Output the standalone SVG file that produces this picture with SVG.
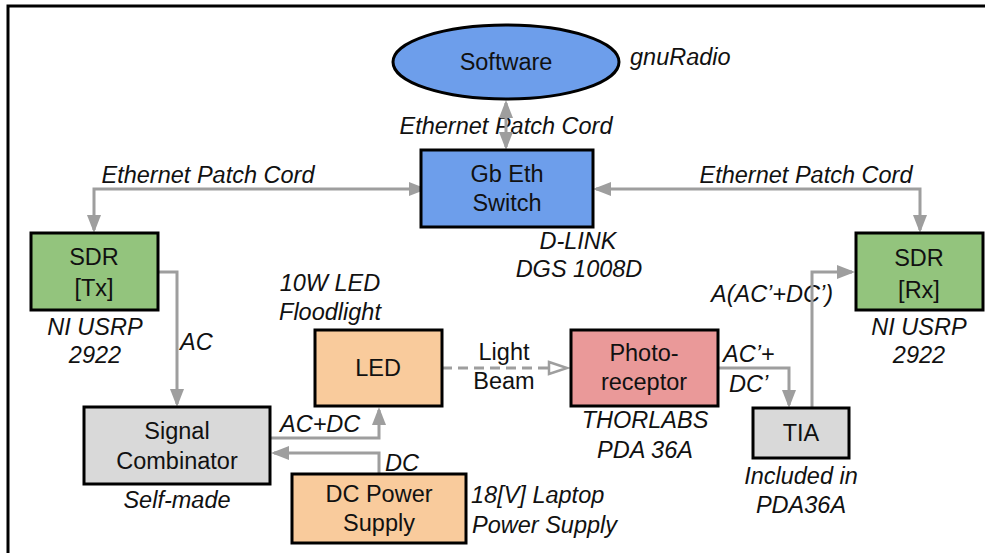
<svg xmlns="http://www.w3.org/2000/svg" width="985" height="553" viewBox="0 0 985 553">
<style>
.box{stroke:#000;stroke-width:3}
.t{font-family:"Liberation Sans",Arial,sans-serif;font-size:23.5px;fill:#111;text-anchor:middle}
.i{font-family:"Liberation Sans",Arial,sans-serif;font-size:23.5px;font-style:italic;fill:#111;text-anchor:middle}
.c{fill:none;stroke:#9e9e9e;stroke-width:3}
</style>
<defs>
<marker id="ah" markerUnits="userSpaceOnUse" markerWidth="18" markerHeight="14" refX="15" refY="7" orient="auto-start-reverse" overflow="visible">
<path d="M0,0 L18,7 L0,14 z" fill="#9e9e9e"/>
</marker>
<marker id="oh" markerUnits="userSpaceOnUse" markerWidth="22" markerHeight="16" refX="2" refY="8" orient="auto" overflow="visible">
<path d="M2,2 L20,8 L2,14 z" fill="#fff" stroke="#9e9e9e" stroke-width="2.5"/>
</marker>
</defs>
<rect width="985" height="553" fill="#fff"/>
<path d="M8,553 V6 H985" fill="none" stroke="#000" stroke-width="3"/>

<g id="labels">
<text class="i" x="506" y="134">Ethernet Patch Cord</text>
<text class="i" x="208" y="183">Ethernet Patch Cord</text>
<text class="i" x="806" y="183">Ethernet Patch Cord</text>
<text class="i" x="630" y="65" style="text-anchor:start">gnuRadio</text>
<text class="i" x="578" y="249">D-LINK</text>
<text class="i" x="579" y="277">DGS 1008D</text>
<text class="i" x="95" y="335">NI USRP</text>
<text class="i" x="95" y="363">2922</text>
<text class="i" x="919" y="335">NI USRP</text>
<text class="i" x="919" y="363">2922</text>
<text class="i" x="180" y="350" style="text-anchor:start">AC</text>
<text class="i" x="330" y="291">10W LED</text>
<text class="i" x="330" y="320">Floodlight</text>
<text class="i" x="177" y="508">Self-made</text>
<text class="i" x="280" y="432" style="text-anchor:start">AC+DC</text>
<text class="i" x="385" y="471" style="text-anchor:start">DC</text>
<text class="i" x="471" y="503" style="text-anchor:start">18[V] Laptop</text>
<text class="i" x="472" y="533" style="text-anchor:start">Power Supply</text>
<text class="t" x="504" y="360">Light</text>
<text class="t" x="504" y="389">Beam</text>
<text class="i" x="645" y="428">THORLABS</text>
<text class="i" x="645" y="458">PDA 36A</text>
<text class="i" x="723" y="362" style="text-anchor:start">AC’+</text>
<text class="i" x="729" y="392" style="text-anchor:start">DC’</text>
<text class="i" x="801" y="484">Included in</text>
<text class="i" x="801" y="513">PDA36A</text>
<text class="i" x="772" y="302">A(AC’+DC’)</text>
</g>

<g id="connectors">
<path class="c" d="M506,103 V147" marker-start="url(#ah)" marker-end="url(#ah)"/>
<path class="c" d="M424,189 H94 V230" marker-start="url(#ah)" marker-end="url(#ah)"/>
<path class="c" d="M596,189 H920 V230" marker-start="url(#ah)" marker-end="url(#ah)"/>
<path class="c" d="M158,272 H177 V404" marker-end="url(#ah)"/>
<path class="c" d="M270,438 H379 V410" marker-end="url(#ah)"/>
<path class="c" d="M379,474 V453 H274" marker-end="url(#ah)"/>
<path class="c" d="M442,368 H549" stroke-dasharray="10,6" marker-end="url(#oh)"/>
<path class="c" d="M718,368 H789 V405" marker-end="url(#ah)"/>
<path class="c" d="M812,408 V272 H852" marker-end="url(#ah)"/>
</g>

<g id="software">
<ellipse class="box" cx="506" cy="62" rx="113" ry="37" fill="#6d9eeb"/>
<text class="t" x="506" y="70">Software</text>
</g>
<g id="switch">
<rect class="box" x="421" y="150" width="172" height="77" fill="#6d9eeb"/>
<text class="t" x="507" y="182">Gb Eth</text>
<text class="t" x="507" y="211">Switch</text>
</g>
<g id="sdr-tx">
<rect class="box" x="31" y="233" width="127" height="77" fill="#93c47d"/>
<text class="t" x="94" y="265">SDR</text>
<text class="t" x="94" y="296">[Tx]</text>
</g>
<g id="sdr-rx">
<rect class="box" x="856" y="233" width="127" height="77" fill="#93c47d"/>
<text class="t" x="919" y="266">SDR</text>
<text class="t" x="919" y="298">[Rx]</text>
</g>
<g id="combinator">
<rect class="box" x="84" y="407" width="186" height="77" fill="#d9d9d9"/>
<text class="t" x="177" y="439">Signal</text>
<text class="t" x="177" y="469">Combinator</text>
</g>
<g id="led">
<rect class="box" x="315" y="330" width="127" height="76" fill="#f9cb9c"/>
<text class="t" x="378" y="376">LED</text>
</g>
<g id="dc-supply">
<rect class="box" x="292" y="474" width="174" height="69" fill="#f9cb9c"/>
<text class="t" x="379" y="502">DC Power</text>
<text class="t" x="379" y="531">Supply</text>
</g>
<g id="photo">
<rect class="box" x="571" y="330" width="147" height="76" fill="#ea9999"/>
<text class="t" x="644" y="361">Photo-</text>
<text class="t" x="644" y="390">receptor</text>
</g>
<g id="tia">
<rect class="box" x="753" y="408" width="96" height="50" fill="#d9d9d9"/>
<text class="t" x="801" y="441">TIA</text>
</g>
</svg>
